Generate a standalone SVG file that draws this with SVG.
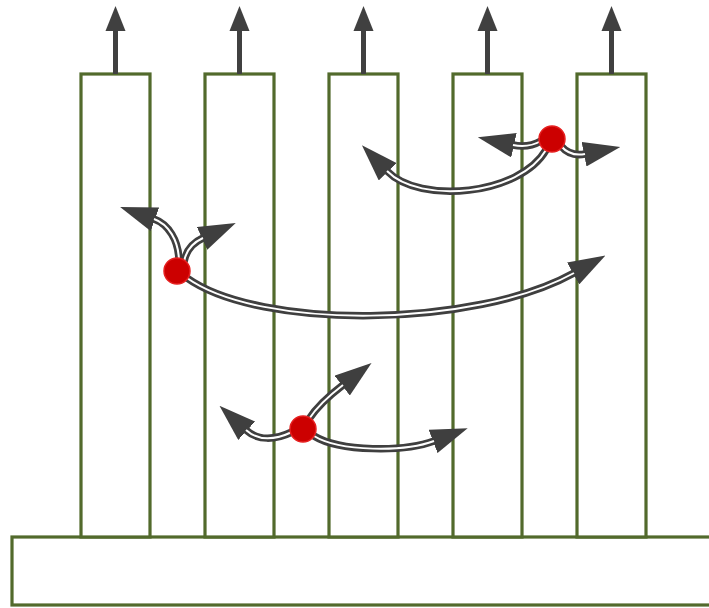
<svg xmlns="http://www.w3.org/2000/svg" width="709" height="608" viewBox="0 0 709 608">
<style>
.col{fill:#fff;stroke:#526a2c;stroke-width:3.2}
.up{stroke:#404040;stroke-width:5;fill:none}
.uph{fill:#404040}
.outer{fill:none;stroke:#3f3f3f;stroke-width:7.5;stroke-linecap:butt}
.inner{fill:none;stroke:#fff;stroke-width:2;stroke-linecap:butt}
.dot{fill:#cc0000;stroke:#e62020;stroke-width:1.5}
</style>
<defs>
<marker id="ah" markerUnits="userSpaceOnUse" markerWidth="37" markerHeight="25" viewBox="0 0 37 25" refX="1" refY="12.5" orient="auto">
<path d="M0,0 L37,12.5 L0,25 z" fill="#3f3f3f"/>
</marker>
</defs>
<rect id="base" class="col" x="12" y="537" width="720" height="68"/>
<g id="col1"><rect class="col" x="81" y="74" width="69" height="463"/><line class="up" x1="115.5" y1="74" x2="115.5" y2="28"/><polygon class="uph" points="115.5,6 105.5,31 125.5,31"/></g>
<g id="col2"><rect class="col" x="205" y="74" width="69" height="463"/><line class="up" x1="239.5" y1="74" x2="239.5" y2="28"/><polygon class="uph" points="239.5,6 229.5,31 249.5,31"/></g>
<g id="col3"><rect class="col" x="329" y="74" width="69" height="463"/><line class="up" x1="363.5" y1="74" x2="363.5" y2="28"/><polygon class="uph" points="363.5,6 353.5,31 373.5,31"/></g>
<g id="col4"><rect class="col" x="453" y="74" width="69" height="463"/><line class="up" x1="487.5" y1="74" x2="487.5" y2="28"/><polygon class="uph" points="487.5,6 477.5,31 497.5,31"/></g>
<g id="col5"><rect class="col" x="577" y="74" width="69" height="463"/><line class="up" x1="611.5" y1="74" x2="611.5" y2="28"/><polygon class="uph" points="611.5,6 601.5,31 621.5,31"/></g>
<g id="connectors">
<path class="outer" marker-end="url(#ah)" d="M179 262 C179 240 168 224 154 219"/>
<path class="inner" d="M179 262 C179 240 168 224 154 219"/>
<path class="outer" marker-end="url(#ah)" d="M184 262 C186 250 192 243 203 238"/>
<path class="inner" d="M184 262 C186 250 192 243 203 238"/>
<path class="outer" marker-end="url(#ah)" d="M187 278 C260 330 475 328 574 273"/>
<path class="inner" d="M187 278 C260 330 475 328 574 273"/>
<path class="outer" marker-end="url(#ah)" d="M541 141 C532 146 522 147 513 145"/>
<path class="inner" d="M541 141 C532 146 522 147 513 145"/>
<path class="outer" marker-end="url(#ah)" d="M561 146 C567 153 575 156 585 154"/>
<path class="inner" d="M561 146 C567 153 575 156 585 154"/>
<path class="outer" marker-end="url(#ah)" d="M546 150 C520 195 420 205 387 171"/>
<path class="inner" d="M546 150 C520 195 420 205 387 171"/>
<path class="outer" marker-end="url(#ah)" d="M309 419 C318 405 330 395 343 385"/>
<path class="inner" d="M309 419 C318 405 330 395 343 385"/>
<path class="outer" marker-end="url(#ah)" d="M292 432 C275 440 258 441 246 430"/>
<path class="inner" d="M292 432 C275 440 258 441 246 430"/>
<path class="outer" marker-end="url(#ah)" d="M314 436 C340 452 405 452 434 441"/>
<path class="inner" d="M314 436 C340 452 405 452 434 441"/>
</g>
<g id="dot1"><circle class="dot" cx="177" cy="271" r="13"/></g>
<g id="dot2"><circle class="dot" cx="552" cy="139" r="13"/></g>
<g id="dot3"><circle class="dot" cx="303" cy="429" r="13"/></g>
</svg>
